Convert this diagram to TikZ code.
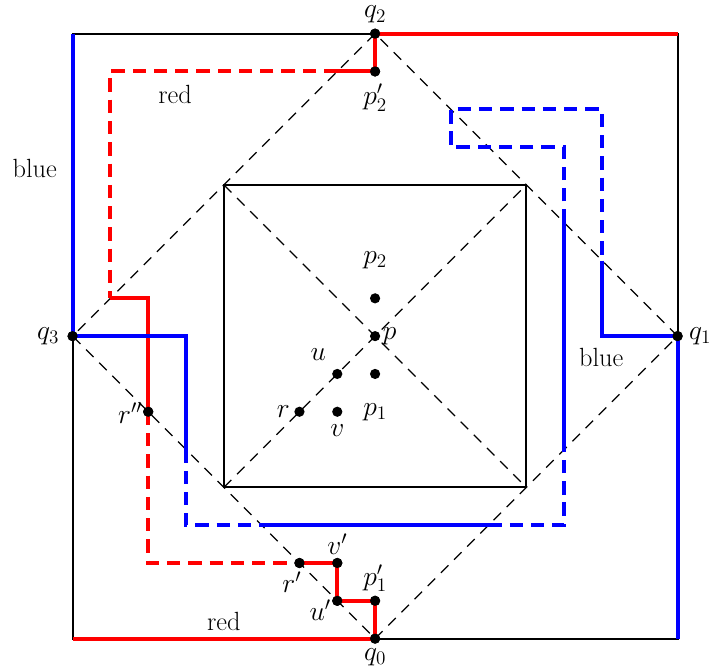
\documentclass[tikz,border=0pt]{standalone}
\usepackage{fontspec}
\begin{document}
\begin{tikzpicture}[
  dot/.style={circle,fill=black,inner sep=0pt,minimum size=0.27cm},
  lbl/.style={font=\fontsize{19.8}{24}\selectfont, inner sep=0pt},
  frame/.style={black, line width=1.4pt},
  guide/.style={black, line width=0.9pt, dash pattern=on 8pt off 6pt},
  redsolid/.style={red, line width=3pt},
  reddash/.style={red, line width=3pt, dash pattern=on 10pt off 6pt},
  bluesolid/.style={blue, line width=3pt},
  bluedash/.style={blue, line width=3pt, dash pattern=on 10pt off 6pt}
]
\useasboundingbox (-9.92,-8.84) rectangle (8.99,8.89);
% corners
\coordinate (ctl) at (-8,8);
\coordinate (ctr) at (8,8);
\coordinate (cbl) at (-8,-8);
\coordinate (cbr) at (8,-8);
\coordinate (itl) at (-4,4);
\coordinate (itr) at (4,4);
\coordinate (ibl) at (-4,-4);
\coordinate (ibr) at (4,-4);
% points
\node[dot] (q0) at (0,-8) {};
\node[dot] (q1) at (8,0) {};
\node[dot] (q2) at (0,8) {};
\node[dot] (q3) at (-8,0) {};
\node[dot] (p) at (0,0) {};
\node[dot] (p1) at (0,-1) {};
\node[dot] (p2) at (0,1) {};
\node[dot] (u) at (-1,-1) {};
\node[dot] (v) at (-1,-2) {};
\node[dot] (r) at (-2,-2) {};
\node[dot] (r2) at (-6,-2) {};
\node[dot] (r1) at (-2,-6) {};
\node[dot] (v1) at (-1,-6) {};
\node[dot] (u1) at (-1,-7) {};
\node[dot] (p1b) at (0,-7) {};
\node[dot] (p2b) at (0,7) {};
% guides
\draw[guide] (q0.center) -- (q1.center) -- (q2.center) -- (q3.center) -- cycle;
\draw[guide] (ibl) -- (itr);
\draw[guide] (itl) -- (ibr);
% frames
\draw[frame] (ctl) rectangle (cbr);
\draw[frame] (itl) rectangle (ibr);
% red path
\coordinate (ra) at (-1,7);
\coordinate (rb) at (-7,7);
\coordinate (rc) at (-7,1);
\coordinate (rd) at (-6,1);
\coordinate (re) at (-6,-6);
\draw[redsolid] (q2.center) -- (ctr);
\draw[redsolid] (q2.center) -- (p2b.center) -- (ra);
\draw[reddash] (ra) -- (rb) -- (rc);
\draw[redsolid] (rc) -- (rd) -- (r2.center);
\draw[reddash] (r2.center) -- (re) -- (r1.center);
\draw[redsolid] (r1.center) -- (v1.center) -- (u1.center) -- (p1b.center) -- (q0.center) -- (cbl);
% blue path
\coordinate (ba) at (-5,0);
\coordinate (bb) at (-5,-3);
\coordinate (bc) at (-5,-5);
\coordinate (bd) at (-3,-5);
\coordinate (be) at (3,-5);
\coordinate (bf) at (5,-5);
\coordinate (bg) at (5,-3);
\coordinate (bh) at (5,3);
\coordinate (bi) at (5,5);
\coordinate (bj) at (2,5);
\coordinate (bk) at (2,6);
\coordinate (bl) at (6,6);
\coordinate (bm) at (6,2);
\coordinate (bn) at (6,0);
\draw[bluesolid] (ctl) -- (q3.center) -- (ba) -- (bb);
\draw[bluedash] (bb) -- (bc) -- (bd);
\draw[bluesolid] (bd) -- (be);
\draw[bluedash] (be) -- (bf) -- (bg);
\draw[bluesolid] (bg) -- (bh);
\draw[bluedash] (bh) -- (bi) -- (bj) -- (bk) -- (bl) -- (bm);
\draw[bluesolid] (bm) -- (bn) -- (q1.center) -- (cbr);
% redraw dots on top
\foreach \n/\x/\y in {q0/0/-8,q1/8/0,q2/0/8,q3/-8/0,p2b/0/7,p1b/0/-7,u1/-1/-7,v1/-1/-6,r1/-2/-6,r2/-6/-2}
  \fill (\x,\y) circle (0.135cm);
% labels
\node[lbl] (lq2) at (0,8.5) {$q_2$};
\node[lbl,anchor=west] (lq1) at (8.3,0) {$q_1$};
\node[lbl] (lq0) at (0,-8.5) {$q_0$};
\node[lbl,anchor=east] (lq3) at (-8.35,0) {$q_3$};
\node[lbl] (lp2) at (0,2.0) {$p_2$};
\node[lbl,anchor=west] (lp) at (0.2,0) {$p$};
\node[lbl] (lp1) at (0,-2.0) {$p_1$};
\node[lbl] (lu) at (-1.5,-0.5) {$u$};
\node[lbl,anchor=east] (lr) at (-2.25,-2) {$r$};
\node[lbl] (lv) at (-1,-2.5) {$v$};
\node[lbl,anchor=east] (lr2) at (-6.15,-2.05) {$r''$};
\node[lbl] (lr1) at (-2.2,-6.5) {$r'$};
\node[lbl] (lv1) at (-1,-5.5) {$v'$};
\node[lbl] (lu1) at (-1.45,-7.25) {$u'$};
\node[lbl] (lp1b) at (0,-6.4) {$p_1'$};
\node[lbl] (lp2b) at (0,6.3) {$p_2'$};
\node[lbl] (tb1) at (-9.0,4.44) {blue};
\node[lbl] (tr1) at (-5.29,6.38) {red};
\node[lbl] (tb2) at (5.98,-0.56) {blue};
\node[lbl] (tr2) at (-4.0,-7.54) {red};
\end{tikzpicture}
\end{document}
